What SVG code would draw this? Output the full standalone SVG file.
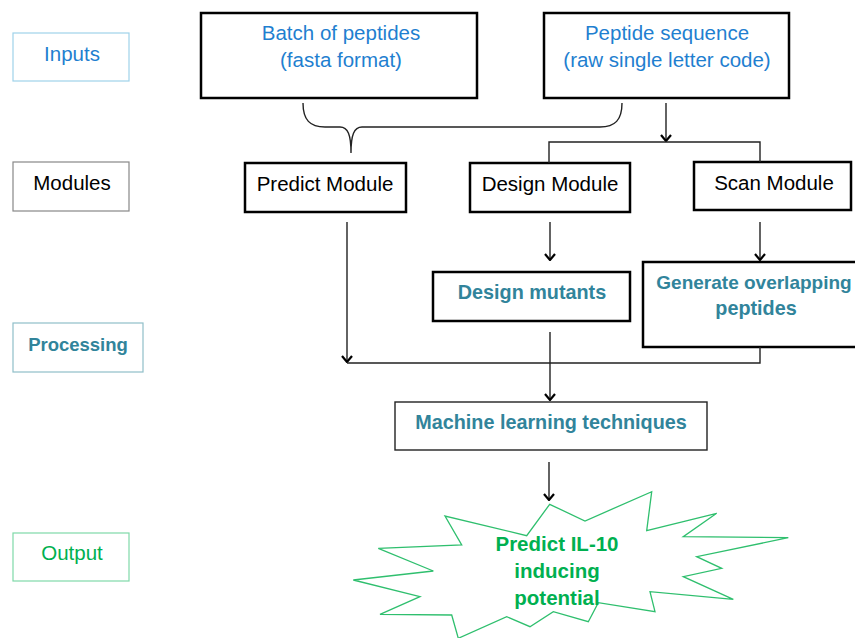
<svg xmlns="http://www.w3.org/2000/svg" width="855" height="638" viewBox="0 0 855 638">
<defs>
<style>
text{font-family:"Liberation Sans","Noto Sans",Arial,sans-serif;text-anchor:middle;font-size:20.5px}
.box{fill:#fff;stroke:#000;stroke-width:2.5}
.lbl{fill:#fff;stroke-width:1.2}
.con{fill:none;stroke:#222;stroke-width:1.4}
.blue{fill:#1f7fd0}
.teal{fill:#31849b;font-weight:bold;font-size:19.8px}
.green{fill:#00b050}
</style>
<marker id="ah" viewBox="0 0 12 12" refX="11" refY="6" markerWidth="12" markerHeight="12" markerUnits="userSpaceOnUse" orient="auto">
<polyline points="5,1 11,6 5,11" fill="none" stroke="#000" stroke-width="2.2"/>
</marker>
</defs>
<rect width="855" height="638" fill="#fff"/>

<g id="label-inputs"><rect class="lbl" x="13" y="33" width="116" height="48" stroke="#9fd2ea"/><text class="blue" x="72" y="61" font-size="21">Inputs</text></g>
<g id="label-modules"><rect class="lbl" x="13" y="162" width="116" height="49" stroke="#888"/><text x="72" y="190" fill="#000" font-size="21">Modules</text></g>
<g id="label-processing"><rect class="lbl" x="13" y="323" width="130" height="49" stroke="#8fbfc9"/><text class="teal" x="78" y="351" style="font-size:18.5px">Processing</text></g>
<g id="label-output"><rect class="lbl" x="13" y="533" width="116" height="48" stroke="#7fd9a8"/><text class="green" x="72" y="560" font-size="21">Output</text></g>

<g id="batch"><rect class="box" x="201" y="13" width="276" height="85"/><text class="blue" x="341" y="40">Batch of peptides</text><text class="blue" x="341" y="67">(fasta format)</text></g>
<g id="sequence"><rect class="box" x="544" y="13" width="245" height="85"/><text class="blue" x="667" y="40">Peptide sequence</text><text class="blue" x="667" y="67">(raw single letter code)</text></g>

<g id="predict"><rect class="box" x="245" y="163" width="161" height="49"/><text x="325" y="191" fill="#000">Predict Module</text></g>
<g id="design"><rect class="box" x="470" y="163" width="160" height="49"/><text x="550" y="191" fill="#000">Design Module</text></g>
<g id="scan"><rect class="box" x="694" y="162" width="157" height="48"/><text x="774" y="190" fill="#000">Scan Module</text></g>

<g id="mutants"><rect class="box" x="433" y="272" width="197" height="49"/><text class="teal" x="532" y="299">Design mutants</text></g>
<g id="overlap"><rect class="box" x="643" y="262" width="230" height="85"/><text class="teal" x="754" y="289" style="font-size:19px">Generate overlapping</text><text class="teal" x="756" y="315">peptides</text></g>

<g id="ml"><rect fill="#fff" stroke="#222" stroke-width="1.4" x="395" y="402" width="312" height="48"/><text class="teal" x="551" y="429">Machine learning techniques</text></g>

<g id="result">
<polygon fill="#fff" stroke="#2fbf6e" stroke-width="1.3" points="549.7,504.3 585,521 651.7,491.7 646.7,530.7 716.7,513.3 683.3,536.7 788.3,537.7 696.7,556.7 721.7,568.3 683.3,576.7 733.3,599.3 650,591.7 655,611.7 598.3,602.7 588.3,621.7 553.3,611.7 530,626.7 506.7,616.7 458.3,638.3 451.7,615 380,614.3 420,596.7 353.3,580 433.3,571 378.3,548.3 461.7,545 445,516 526.7,535.7"/>
<text class="green" font-weight="bold" x="557" y="551" font-size="20.5">Predict IL-10</text>
<text class="green" font-weight="bold" x="557" y="578" font-size="20.5">inducing</text>
<text class="green" font-weight="bold" x="557" y="605" font-size="20.5">potential</text>
</g>

<g id="connectors">
<path class="con" d="M303,103 C303,120 310,127 325,127 L340,127 C348,127 351,135 351,153 C351,135 354,127 362,127 L600,127 C615,127 622,120 622,103"/>
<line class="con" x1="666" y1="103" x2="666" y2="141" marker-end="url(#ah)"/>
<polyline class="con" points="549,163 549,142 760,142 760,162"/>
<line class="con" x1="347" y1="222" x2="347" y2="362" marker-end="url(#ah)"/>
<line class="con" x1="550" y1="222" x2="550" y2="260" marker-end="url(#ah)"/>
<line class="con" x1="760" y1="222" x2="760" y2="260" marker-end="url(#ah)"/>
<polyline class="con" points="347,363 760,363 760,347"/>
<line class="con" x1="550" y1="332" x2="550" y2="400" marker-end="url(#ah)"/>
<line class="con" x1="549" y1="462" x2="549" y2="500" marker-end="url(#ah)"/>
</g>
</svg>
